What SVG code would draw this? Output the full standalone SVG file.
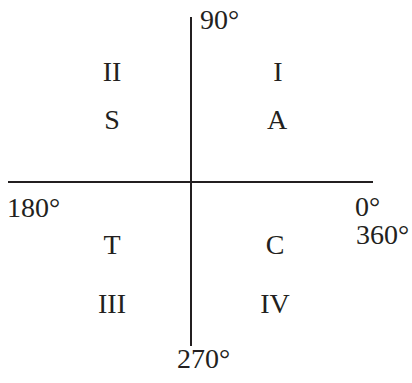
<svg xmlns="http://www.w3.org/2000/svg" width="412" height="383" viewBox="0 0 412 383">
<style>
text{font-family:"Liberation Serif","Times New Roman",serif;font-size:28px;fill:#231f20}
.m{text-anchor:middle}
line{stroke:#231f20;stroke-width:2}
</style>
<rect width="412" height="383" fill="#fff"/>
<g id="axes">
<line x1="8" y1="182" x2="373" y2="182"/>
<line x1="191" y1="17" x2="191" y2="346"/>
</g>
<g id="angles">
<text x="200" y="29">90°</text>
<text x="7" y="217">180°</text>
<text x="355" y="216">0°</text>
<text x="356" y="244">360°</text>
<text x="177" y="368">270°</text>
</g>
<g id="q1"><text class="m" x="278" y="81">I</text><text class="m" x="277" y="129">A</text></g>
<g id="q2"><text class="m" x="112" y="81">II</text><text class="m" x="112" y="129">S</text></g>
<g id="q3"><text class="m" x="112" y="254">T</text><text class="m" x="112" y="313">III</text></g>
<g id="q4"><text class="m" x="275" y="254">C</text><text class="m" x="275" y="313">IV</text></g>
</svg>
